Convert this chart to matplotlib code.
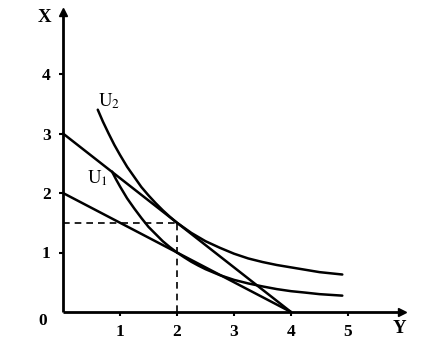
import matplotlib
matplotlib.use("Agg")
import matplotlib.pyplot as plt

plt.rcParams['font.family'] = ['Liberation Serif', 'DejaVu Serif']
plt.rcParams['mathtext.fontset'] = 'stix'

# data
budget1_x = [0, 4]
budget1_y = [3, 0]
budget2_x = [0, 4]
budget2_y = [2, 0]
u2_x = [0.61, 0.7, 0.8, 0.9, 1.0, 1.125, 1.25, 1.375, 1.5, 1.625, 1.75, 1.875, 2.0,
        2.25, 2.5, 2.75, 3.0, 3.25, 3.5, 3.75, 4.0, 4.25, 4.5, 4.9]
u2_y = [3.40, 3.20, 3.00, 2.81, 2.64, 2.44, 2.27, 2.10, 1.96, 1.83, 1.71, 1.60, 1.50,
        1.33, 1.19, 1.08, 0.98, 0.90, 0.84, 0.79, 0.75, 0.71, 0.67, 0.63]
u1_x = [0.86, 0.93, 1.0, 1.125, 1.25, 1.375, 1.5, 1.625, 1.75, 1.875, 2.0, 2.125,
        2.25, 2.375, 2.5, 2.625, 2.75, 3.0, 3.25, 3.5, 3.75, 4.0, 4.25, 4.5, 4.9]
u1_y = [2.36, 2.23, 2.11, 1.91, 1.74, 1.58, 1.43, 1.31, 1.19, 1.09, 1.00, 0.92,
        0.845, 0.78, 0.72, 0.67, 0.62, 0.54, 0.48, 0.43, 0.385, 0.35, 0.326, 0.30, 0.275]
opt_x = 2
opt_y = 1.5
x_ticks = [1, 2, 3, 4, 5]
y_ticks = [1, 2, 3, 4]

W, H = 436, 355
fig = plt.figure(figsize=(W / 100, H / 100), dpi=100)
ox, oy = 63, 312
ux, uy = 57, 59.5
xmax, ymax = 5.95, 5.04
ax = fig.add_axes([ox / W, (H - oy) / H, xmax * ux / W, ymax * uy / H])
ax.set_xlim(0, xmax)
ax.set_ylim(0, ymax)
ax.patch.set_alpha(0)
for s in ['top', 'right']:
    ax.spines[s].set_visible(False)
for s in ['left', 'bottom']:
    ax.spines[s].set_linewidth(2)
    ax.spines[s].set_capstyle('butt')

lw = 1.8
kw = dict(color='black', lw=lw, clip_on=False, solid_joinstyle='round', solid_capstyle='round')
ax.plot(budget1_x, budget1_y, **kw)
ax.plot(budget2_x, budget2_y, **kw)
ax.plot(u2_x, u2_y, **kw)
ax.plot(u1_x, u1_y, **kw)
ax.plot([opt_x, opt_x], [0, opt_y], color='black', lw=1.2, ls=(0, (4, 3)))
ax.plot([0, opt_x], [opt_y, opt_y], color='black', lw=1.2, ls=(0, (4, 3)))

# arrow heads
ax.plot([xmax], [0], marker='>', color='black', ms=6, clip_on=False)
ax.plot([0], [ymax], marker='^', color='black', ms=6, clip_on=False)

fs = 12.5
ax.set_xticks(x_ticks)
ax.set_xticklabels([str(t) for t in x_ticks], fontsize=fs, fontweight='bold')
ax.set_yticks(y_ticks)
ax.set_yticklabels([str(t) for t in y_ticks], fontsize=fs, fontweight='bold')
ax.tick_params(axis='both', length=3, width=1.5, direction='out', pad=6)

ax.text(-0.36, -0.15, '0', fontsize=fs, fontweight='bold', ha='center', va='center')
ax.text(5.9, -0.27, 'Y', fontsize=fs + 1, fontweight='bold', ha='center', va='center')
ax.text(-0.32, 4.95, 'X', fontsize=fs + 1, fontweight='bold', ha='center', va='center')
ax.text(0.8, 3.55, r'$\mathrm{U}_2$', fontsize=fs + 1, ha='center', va='center')
ax.text(0.6, 2.25, r'$\mathrm{U}_1$', fontsize=fs + 1, ha='center', va='center')

fig.savefig('out.png', dpi=100)
